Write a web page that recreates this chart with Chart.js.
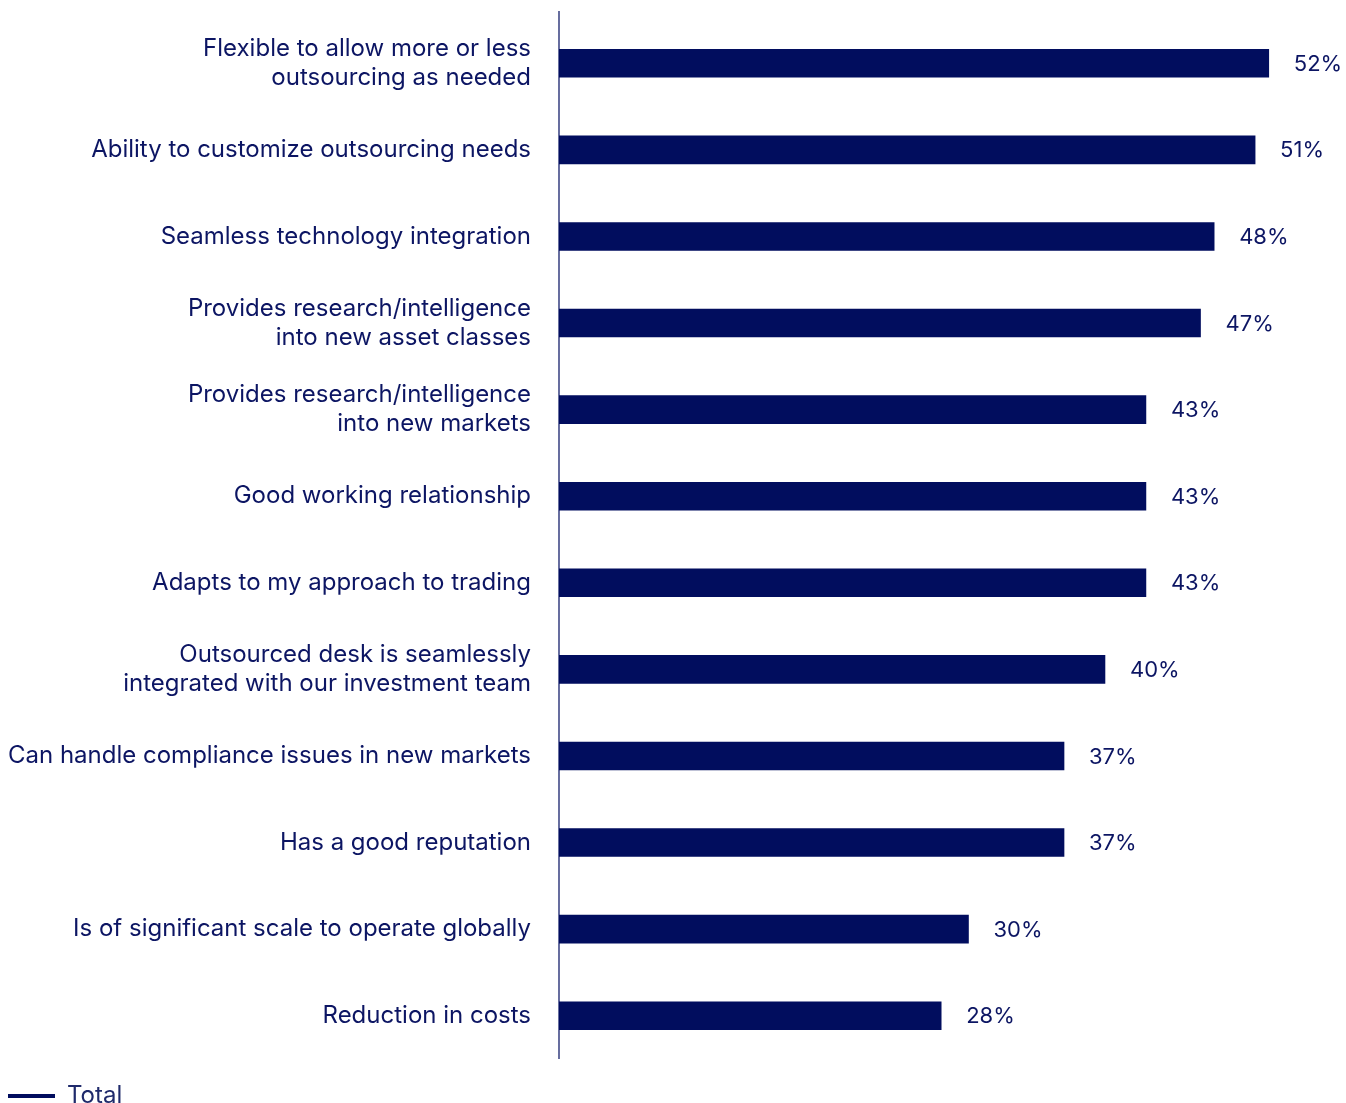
<!DOCTYPE html>
<html>
<head>
<meta charset="utf-8">
<script src="https://cdn.jsdelivr.net/npm/chart.js@4.4.1/dist/chart.umd.min.js"></script>
<style>
  html, body { margin: 0; padding: 0; background: #fff; }
  #wrap { width: 1346px; height: 1103px; position: relative; }
</style>
</head>
<body>
<div id="wrap"><canvas id="reasonsChart"></canvas></div>
<script>
const categories = [
  ['Flexible to allow more or less', 'outsourcing as needed'],
  'Ability to customize outsourcing needs',
  'Seamless technology integration',
  ['Provides research/intelligence', 'into new asset classes'],
  ['Provides research/intelligence', 'into new markets'],
  'Good working relationship',
  'Adapts to my approach to trading',
  ['Outsourced desk is seamlessly', 'integrated with our investment team'],
  'Can handle compliance issues in new markets',
  'Has a good reputation',
  'Is of significant scale to operate globally',
  'Reduction in costs'
];
const totalValues = [52, 51, 48, 47, 43, 43, 43, 40, 37, 37, 30, 28];
const seriesName = 'Total';

const NAVY = '#010d5e';
const TEXT = '#0c1563';

// percentage labels to the right of each bar
const valueLabels = {
  id: 'valueLabels',
  afterDatasetsDraw(chart) {
    const ctx = chart.ctx;
    const meta = chart.getDatasetMeta(0);
    ctx.save();
    ctx.font = '22px Inter';
    ctx.fillStyle = TEXT;
    ctx.textAlign = 'left';
    ctx.textBaseline = 'middle';
    meta.data.forEach((bar, i) => {
      ctx.fillText(totalValues[i] + '%', bar.x + 25, bar.y + 1);
    });
    ctx.restore();
  }
};

// vertical axis rule, running a little above the plot area
const axisRule = {
  id: 'axisRule',
  afterDraw(chart) {
    const { ctx, chartArea } = chart;
    ctx.save();
    ctx.strokeStyle = NAVY;
    ctx.lineWidth = 1.2;
    ctx.beginPath();
    ctx.moveTo(chartArea.left, chartArea.top - 9);
    ctx.lineTo(chartArea.left, chartArea.bottom);
    ctx.stroke();
    ctx.restore();
  }
};

new Chart(document.getElementById('reasonsChart'), {
  type: 'bar',
  data: {
    labels: categories,
    datasets: [{
      label: seriesName,
      data: totalValues,
      backgroundColor: NAVY,
      borderWidth: 0,
      barThickness: 28
    }]
  },
  options: {
    indexAxis: 'y',
    responsive: true,
    maintainAspectRatio: false,
    animation: false,
    layout: { padding: { top: 20, right: 9, bottom: -15, left: 0 } },
    scales: {
      x: {
        min: 0,
        max: 57,
        grid: { display: false, drawTicks: false },
        border: { display: false },
        ticks: { display: false },
        // empty strip between the plot and the legend
        afterFit(scale) { scale.height = 17; }
      },
      y: {
        grid: { display: false, drawTicks: false },
        border: { display: false },
        ticks: {
          padding: 28,
          color: TEXT,
          font: { family: 'Inter', size: 24, lineHeight: 1.22 }
        },
        afterFit(scale) {
          scale.width = 559;
          scale.paddingTop = 0;
          scale.paddingBottom = 0;
        }
      }
    },
    plugins: {
      tooltip: { enabled: false },
      legend: {
        position: 'bottom',
        align: 'start',
        labels: {
          color: '#1f2a6b',
          padding: 8,
          font: { family: 'Inter', size: 24 },
          usePointStyle: true,
          pointStyleWidth: 47,
          generateLabels(chart) {
            return Chart.defaults.plugins.legend.labels.generateLabels(chart).map(item => ({
              ...item,
              pointStyle: 'line',
              strokeStyle: NAVY,
              fillStyle: NAVY,
              lineWidth: 4
            }));
          }
        }
      }
    }
  },
  plugins: [valueLabels, axisRule]
});
</script>
</body>
</html>
